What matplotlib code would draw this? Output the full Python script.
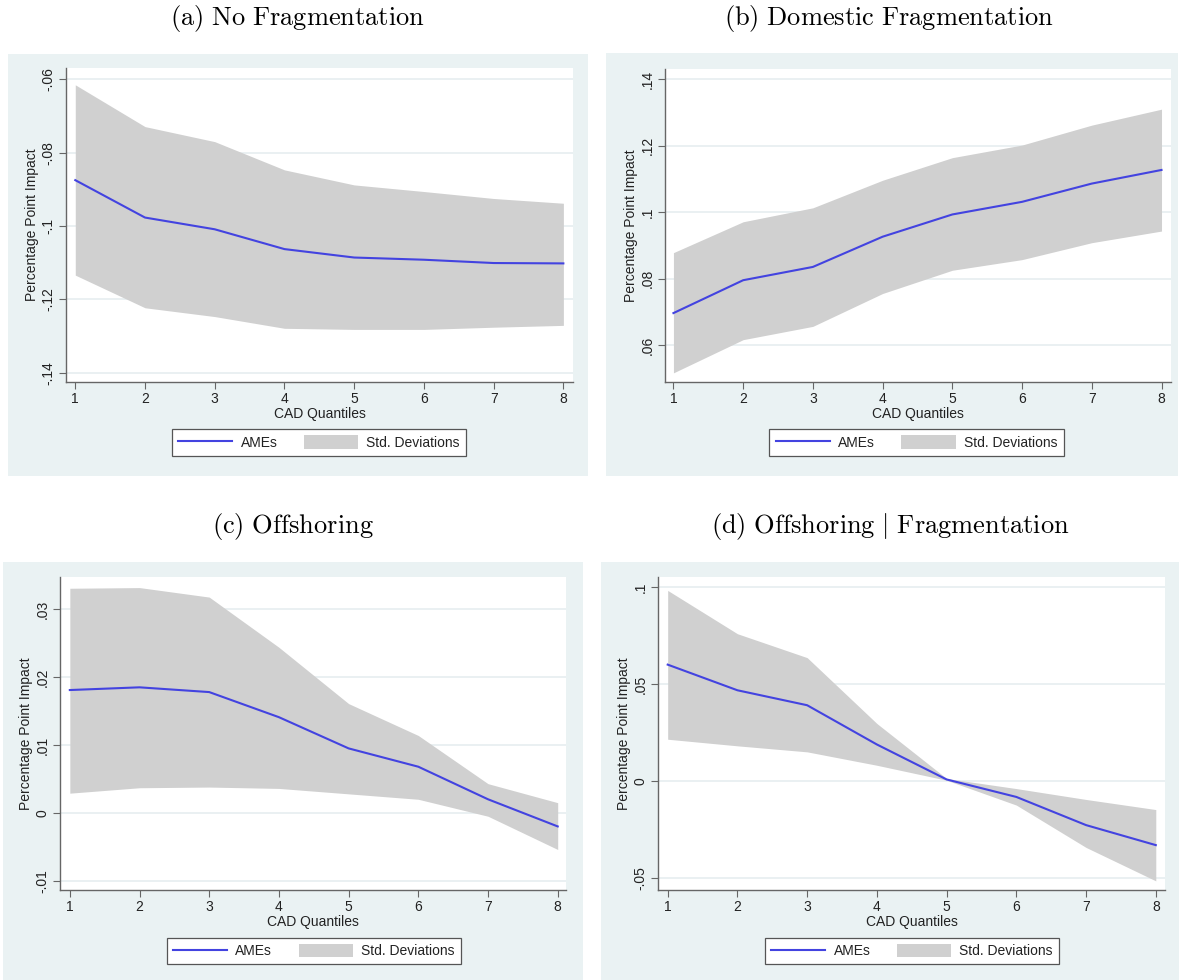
import matplotlib
matplotlib.use("Agg")
import matplotlib.pyplot as plt
from matplotlib.patches import Rectangle, Patch
from matplotlib.lines import Line2D

plt.rcParams['font.family'] = ['Liberation Sans', 'DejaVu Sans']
plt.rcParams['mathtext.fontset'] = 'cm'

# ---------------- data ----------------
quantiles = [1, 2, 3, 4, 5, 6, 7, 8]
xtick_labels = ['1', '2', '3', '4', '5', '6', '7', '8']

titles = [r'$\mathrm{(a)\ No\ Fragmentation}$',
          r'$\mathrm{(b)\ Domestic\ Fragmentation}$',
          r'$\mathrm{(c)\ Offshoring}$',
          r'$\mathrm{(d)\ Offshoring\ |\ Fragmentation}$']

ame_a = [-0.0875, -0.0977, -0.1009, -0.1063, -0.1086, -0.1092, -0.1101, -0.1102]
upper_a = [-0.0615, -0.0729, -0.0770, -0.0847, -0.0888, -0.0906, -0.0925, -0.0938]
lower_a = [-0.1134, -0.1223, -0.1247, -0.1279, -0.1282, -0.1282, -0.1276, -0.1271]
yticks_a = [-0.14, -0.12, -0.10, -0.08, -0.06]
ytick_labels_a = ['-.14', '-.12', '-.1', '-.08', '-.06']

ame_b = [0.0696, 0.0795, 0.0835, 0.0926, 0.0993, 0.1031, 0.1086, 0.1127]
upper_b = [0.0878, 0.0971, 0.1013, 0.1096, 0.1164, 0.1202, 0.1262, 0.1310]
lower_b = [0.0516, 0.0616, 0.0656, 0.0755, 0.0825, 0.0857, 0.0908, 0.0943]
yticks_b = [0.06, 0.08, 0.10, 0.12, 0.14]
ytick_labels_b = ['.06', '.08', '.1', '.12', '.14']

ame_c = [0.0181, 0.0185, 0.0178, 0.0141, 0.0095, 0.0068, 0.0020, -0.0020]
upper_c = [0.0331, 0.0332, 0.0318, 0.0244, 0.0161, 0.0114, 0.0043, 0.0015]
lower_c = [0.0029, 0.0037, 0.0038, 0.0036, 0.0028, 0.0020, -0.0005, -0.0054]
yticks_c = [-0.01, 0.0, 0.01, 0.02, 0.03]
ytick_labels_c = ['-.01', '0', '.01', '.02', '.03']

ame_d = [0.0600, 0.0468, 0.0391, 0.0189, 0.0009, -0.0081, -0.0226, -0.0329]
upper_d = [0.0982, 0.0759, 0.0636, 0.0297, 0.0014, -0.0038, -0.0094, -0.0146]
lower_d = [0.0216, 0.0182, 0.0151, 0.0082, 0.0005, -0.0123, -0.0341, -0.0513]
yticks_d = [-0.05, 0.0, 0.05, 0.10]
ytick_labels_d = ['-.05', '0', '.05', '.1']

# ---------------- layout (pixels) ----------------
W, H = 1179, 980
fig = plt.figure(figsize=(W / 100, H / 100), dpi=100)
fig.patch.set_facecolor('white')

BG = '#EAF2F3'
FILL = '#D0D0D0'
LINE = '#4343E0'
AXC = '#666666'
GRID = '#E6EEF0'

panels = [
    dict(bg=(8, 54, 588, 476), ax=(66, 68, 573, 382), xlim=(0.867, 8.138), ylim=(-0.14254, -0.05692),
         title_xy=(297, 19), leg=(319, 442.5), ame=ame_a, up=upper_a, lo=lower_a,
         yt=yticks_a, ytl=ytick_labels_a, title=titles[0]),
    dict(bg=(606, 53, 1178, 476), ax=(665, 69, 1171, 382), xlim=(0.879, 8.136), ylim=(0.04885, 0.1431),
         title_xy=(889, 19), leg=(916.5, 442.5), ame=ame_b, up=upper_b, lo=lower_b,
         yt=yticks_b, ytl=ytick_labels_b, title=titles[1]),
    dict(bg=(3, 562, 583, 980), ax=(60, 577, 566, 890), xlim=(0.859, 8.119), ylim=(-0.01137, 0.03476),
         title_xy=(293, 527), leg=(313.7, 951), ame=ame_c, up=upper_c, lo=lower_c,
         yt=yticks_c, ytl=ytick_labels_c, title=titles[2]),
    dict(bg=(601, 562, 1179, 980), ax=(658, 577, 1165, 890), xlim=(0.861, 8.132), ylim=(-0.056, 0.1051),
         title_xy=(890, 527), leg=(911.9, 951), ame=ame_d, up=upper_d, lo=lower_d,
         yt=yticks_d, ytl=ytick_labels_d, title=titles[3]),
]

for p in panels:
    x0, y0, x1, y1 = p['bg']
    fig.patches.append(Rectangle((x0 / W, 1 - y1 / H), (x1 - x0) / W, (y1 - y0) / H,
                                 transform=fig.transFigure, facecolor=BG, edgecolor='none', zorder=-5))
    tx, ty = p['title_xy']
    fig.text(tx / W, 1 - ty / H, p['title'], ha='center', va='center', fontsize=19, color='black')

    ax0, ay0, ax1, ay1 = p['ax']
    ax = fig.add_axes([ax0 / W, 1 - ay1 / H, (ax1 - ax0) / W, (ay1 - ay0) / H])
    ax.set_facecolor('white')
    ax.fill_between(quantiles, p['lo'], p['up'], color=FILL, lw=0, zorder=2)
    ax.plot(quantiles, p['ame'], color=LINE, lw=1.5, zorder=3)
    ax.set_xlim(*p['xlim'])
    ax.set_ylim(*p['ylim'])
    ax.set_xticks(quantiles)
    ax.set_xticklabels(xtick_labels)
    ax.set_yticks(p['yt'])
    ax.set_yticklabels(p['ytl'], rotation=90, va='center')
    ax.yaxis.grid(True, color=GRID, lw=1.2, zorder=1)
    ax.set_axisbelow(True)
    for s in ['top', 'right']:
        ax.spines[s].set_visible(False)
    for s in ['left', 'bottom']:
        ax.spines[s].set_color(AXC)
        ax.spines[s].set_linewidth(1.0)
    ax.tick_params(axis='both', colors=AXC, labelcolor='#222222', labelsize=10, length=5, width=0.8, pad=2.5)
    ax.set_xlabel('CAD Quantiles', fontsize=10, color='#222222', labelpad=0.5)
    ax.set_ylabel('Percentage Point Impact', fontsize=10, color='#222222', labelpad=2)

    handles = [Line2D([], [], color=LINE, lw=1.5), Patch(facecolor=FILL, edgecolor='none')]
    lx, ly = p['leg']
    leg = ax.legend(handles, ['AMEs', 'Std. Deviations'], loc='center',
                    bbox_to_anchor=(lx / W, 1 - ly / H), bbox_transform=fig.transFigure,
                    ncol=2, frameon=True, fancybox=False, framealpha=1, edgecolor='#555555',
                    facecolor='white', fontsize=10, handlelength=3.9, handleheight=1.1,
                    columnspacing=1.9, handletextpad=0.6, borderpad=0.45, borderaxespad=0)
    leg.get_frame().set_linewidth(0.9)
    for t in leg.get_texts():
        t.set_color('#222222')

fig.savefig('out.png', dpi=100, facecolor='white')
